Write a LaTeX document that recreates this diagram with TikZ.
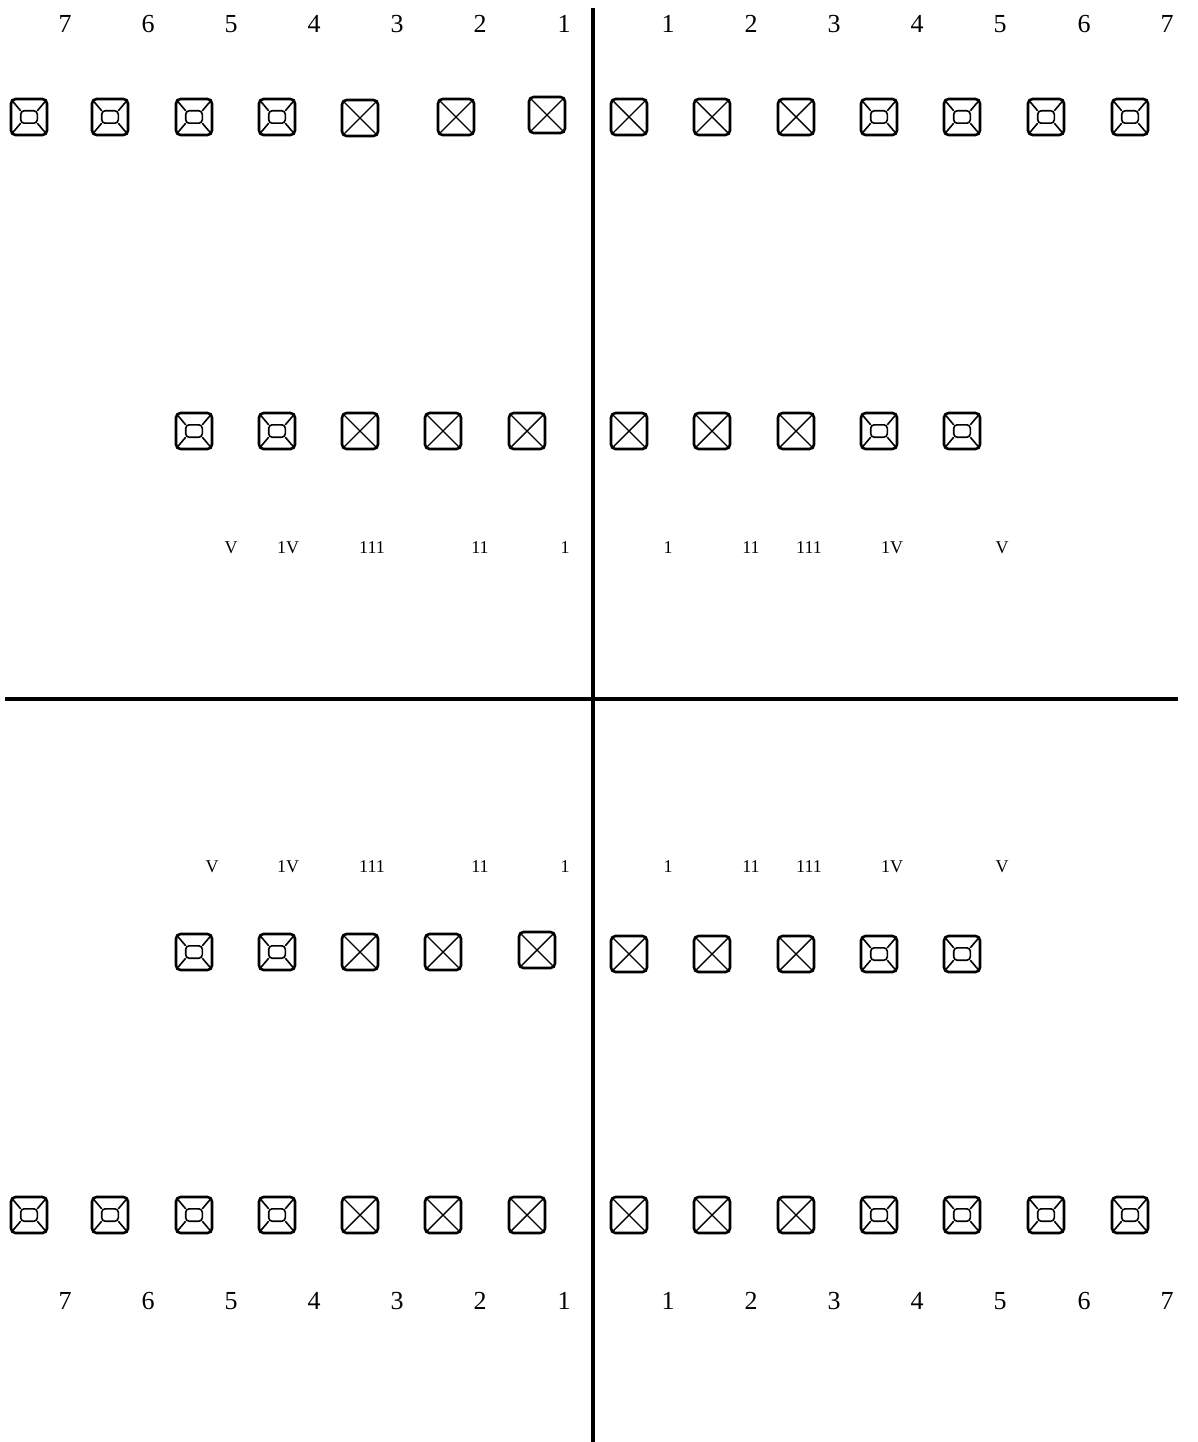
\documentclass[tikz,border=0pt]{standalone}
\usepackage{fontspec}
\setmainfont{Liberation Serif}
\begin{document}
\begin{tikzpicture}[x=1pt,y=-1pt,
  axis/.style={line width=3.4pt},
  xbox/.style={draw, line width=2.6pt, rounded corners=4.5pt, minimum size=36pt, inner sep=0pt, outer sep=0pt,
    path picture={\draw[line width=1.4pt, sharp corners] ([shift={(-20pt,20pt)}]path picture bounding box.center) -- ([shift={(20pt,-20pt)}]path picture bounding box.center)
      ([shift={(-20pt,-20pt)}]path picture bounding box.center) -- ([shift={(20pt,20pt)}]path picture bounding box.center);}},
  lbox/.style={draw, line width=2.6pt, rounded corners=4.5pt, minimum size=36pt, inner sep=0pt, outer sep=0pt,
    path picture={
      \begin{scope}[shift={(path picture bounding box.center)}]
      \draw[line width=1.6pt, rounded corners=3.5pt] (-8.3pt,-6.2pt) rectangle (8.3pt,6.2pt);
      \draw[line width=1.6pt, sharp corners] (-20pt,20pt) -- (-8.3pt,6.2pt) (20pt,20pt) -- (8.3pt,6.2pt)
        (-20pt,-20pt) -- (-8.3pt,-6.2pt) (20pt,-20pt) -- (8.3pt,-6.2pt);
      \end{scope}}},
  num/.style={font=\fontsize{26}{28}\selectfont, anchor=base, inner sep=0pt},
  rom/.style={font=\fontsize{18}{20}\selectfont, anchor=base, inner sep=0pt}]
\useasboundingbox (0,0) rectangle (1197,1442);
% axes
\coordinate (vt) at (593,8);
\coordinate (vb) at (593,1442);
\coordinate (hl) at (5,699);
\coordinate (hr) at (1178,699);
\draw[axis] (vt) -- (vb);
\draw[axis] (hl) -- (hr);
% numbers top and bottom
\foreach \n/\x in {7/65,6/148,5/231,4/314,3/397,2/480,1/564}{
  \node[num] (tl\n) at (\x,33) {\n};
  \node[num] (bl\n) at (\x,1309) {\n};}
\foreach \n/\x in {1/668,2/751,3/834,4/917,5/1000,6/1084,7/1167}{
  \node[num] (tr\n) at (\x,33) {\n};
  \node[num] (br\n) at (\x,1309) {\n};}
% row 1
\foreach \i/\x in {7/29,6/110,5/194,4/277}{\node[lbox] (ra\i) at (\x,117) {};}
\node[xbox] (ra3) at (360,118) {};
\node[xbox] (ra2) at (456,117) {};
\node[xbox] (ra1) at (547,115) {};
\foreach \i/\x in {1/629,2/712,3/796}{\node[xbox] (rb\i) at (\x,117) {};}
\foreach \i/\x in {4/879,5/962,6/1046,7/1130}{\node[lbox] (rb\i) at (\x,117) {};}
% row 2
\foreach \i/\x in {5/194,4/277}{\node[lbox] (sa\i) at (\x,431) {};}
\foreach \i/\x in {3/360,2/443,1/527}{\node[xbox] (sa\i) at (\x,431) {};}
\foreach \i/\x in {1/629,2/712,3/796}{\node[xbox] (sb\i) at (\x,431) {};}
\foreach \i/\x in {4/879,5/962}{\node[lbox] (sb\i) at (\x,431) {};}
% roman labels upper
\node[rom] (ua5) at (231,553) {V};
\node[rom] (ua4) at (288,553) {1V};
\node[rom] (ua3) at (372,553) {111};
\node[rom] (ua2) at (480,553) {11};
\node[rom] (ua1) at (565,553) {1};
\node[rom] (ub1) at (668,553) {1};
\node[rom] (ub2) at (751,553) {11};
\node[rom] (ub3) at (809,553) {111};
\node[rom] (ub4) at (892,553) {1V};
\node[rom] (ub5) at (1002,553) {V};
% roman labels lower
\node[rom] (la5) at (212,872) {V};
\node[rom] (la4) at (288,872) {1V};
\node[rom] (la3) at (372,872) {111};
\node[rom] (la2) at (480,872) {11};
\node[rom] (la1) at (565,872) {1};
\node[rom] (lb1) at (668,872) {1};
\node[rom] (lb2) at (751,872) {11};
\node[rom] (lb3) at (809,872) {111};
\node[rom] (lb4) at (892,872) {1V};
\node[rom] (lb5) at (1002,872) {V};
% row 3
\foreach \i/\x in {5/194,4/277}{\node[lbox] (ta\i) at (\x,952) {};}
\foreach \i/\x in {3/360,2/443}{\node[xbox] (ta\i) at (\x,952) {};}
\node[xbox] (ta1) at (537,950) {};
\foreach \i/\x in {1/629,2/712,3/796}{\node[xbox] (tb\i) at (\x,954) {};}
\foreach \i/\x in {4/879,5/962}{\node[lbox] (tb\i) at (\x,954) {};}
% row 4
\foreach \i/\x in {7/29,6/110,5/194,4/277}{\node[lbox] (va\i) at (\x,1215) {};}
\foreach \i/\x in {3/360,2/443,1/527}{\node[xbox] (va\i) at (\x,1215) {};}
\foreach \i/\x in {1/629,2/712,3/796}{\node[xbox] (vb\i) at (\x,1215) {};}
\foreach \i/\x in {4/879,5/962,6/1046,7/1130}{\node[lbox] (vb\i) at (\x,1215) {};}
\end{tikzpicture}
\end{document}
